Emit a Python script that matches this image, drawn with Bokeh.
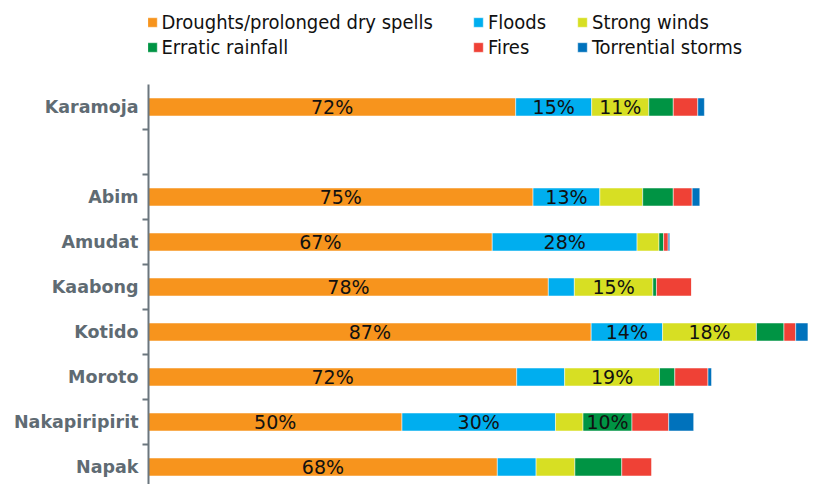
from bokeh.plotting import figure
from bokeh.models import ColumnDataSource, Range1d, FixedTicker, Legend, LegendItem
from bokeh.embed import file_html
from bokeh.resources import INLINE
from bokeh.core.properties import value

# ---- data (percent of respondents naming each hazard) ----
regions = ["Karamoja", "", "Abim", "Amudat", "Kaabong", "Kotido", "Moroto", "Nakapiripirit", "Napak"]
droughts = [72.0, 0, 75.4, 67.4, 78.4, 86.8, 72.2, 49.7, 68.4]
floods = [14.9, 0, 13.1, 28.4, 5.1, 14.0, 9.4, 30.1, 7.6]
winds = [11.2, 0, 8.4, 4.3, 15.4, 18.4, 18.6, 5.4, 7.6]
erratic = [4.8, 0, 6.0, 0.9, 0.7, 5.4, 3.0, 9.6, 9.2]
fires = [4.8, 0, 3.7, 0.9, 6.9, 2.3, 6.5, 7.2, 5.9]
storms = [1.3, 0, 1.5, 0.3, 0.0, 2.4, 0.7, 4.9, 0.0]

series_names = ["Droughts/prolonged dry spells", "Floods", "Strong winds",
                "Erratic rainfall", "Fires", "Torrential storms"]
series_keys = ["droughts", "floods", "winds", "erratic", "fires", "storms"]
colors = ["#F7941D", "#00AEEF", "#D7DF23", "#009444", "#EF4136", "#0072BC"]

ypos = list(range(len(regions)))
data = dict(y=ypos, droughts=droughts, floods=floods, winds=winds,
            erratic=erratic, fires=fires, storms=storms)
src = ColumnDataSource(data)

W, H = 811, 484
TOP = 84          # where the category area starts (px from top)
LEFT = 148
ROW = 45.0        # px per category
y_top = -0.5 - TOP / ROW
p = figure(width=W, height=H, output_backend="svg", toolbar_location=None,
           x_range=Range1d(0, (W - LEFT) / 5.1),
           y_range=Range1d(y_top + H / ROW, y_top),
           min_border_left=LEFT, min_border_right=0, min_border_top=0,
           min_border_bottom=0)
p.outline_line_color = None
p.grid.visible = False
p.xaxis.visible = False
p.background_fill_color = "white"
p.border_fill_color = "white"

renderers = p.hbar_stack(series_keys, y="y", height=0.4, color=colors,
                         line_color="white", line_width=0.5, source=src)

# labels for segments >= 10%
lx, ly, lt = [], [], []
cols = [droughts, floods, winds, erratic, fires, storms]
for i, yv in enumerate(ypos):
    left = 0.0
    for c in cols:
        v = c[i]
        if v >= 9.5:
            lx.append(left + v / 2.0)
            ly.append(yv)
            lt.append(f"{round(v)}%")
        left += v
p.text(x=lx, y=ly, text=lt, text_align="center", text_baseline="middle",
       text_font=value("DejaVu Sans"), text_font_size="19px", text_color="#111111")

# y axis: labels at centers, ticks at boundaries
centers = [i for i, r in enumerate(regions) if r]
bounds = [i + 0.5 for i in range(len(regions) - 1)]
ax = p.yaxis[0]
ax.bounds = (-0.5, 9.0)
ax.ticker = FixedTicker(ticks=centers, minor_ticks=bounds)
ax.major_label_overrides = {i: regions[i] for i in centers}
ax.major_tick_out = 0
ax.major_tick_in = 0
ax.minor_tick_out = 6
ax.minor_tick_in = 0
ax.minor_tick_line_color = "#6b767e"
ax.minor_tick_line_width = 2
ax.axis_line_color = "#6b767e"
ax.axis_line_width = 2
ax.major_label_text_font = "DejaVu Sans"
ax.major_label_text_font_style = "bold"
ax.major_label_text_font_size = "17.5px"
ax.major_label_text_color = "#5f6b73"
ax.major_label_standoff = 4

# legend: three columns of two rows, above the bars
col_x = [-2.5, 324, 428]
col_items = [[0, 3], [1, 4], [2, 5]]
for cx, idxs in zip(col_x, col_items):
    items = [LegendItem(label=series_names[k], renderers=[renderers[k]]) for k in idxs]
    leg = Legend(items=items, location=(cx, H - 59),
                 orientation="vertical", padding=0, margin=0, spacing=1,
                 glyph_width=12, glyph_height=12, label_height=24,
                 label_standoff=4, label_text_font="DejaVu Sans Condensed",
                 label_text_font_size="20px", label_text_color="#111111",
                 border_line_alpha=0, background_fill_alpha=0)
    p.add_layout(leg, "center")

open("out.html", "w").write(file_html(p, INLINE))
